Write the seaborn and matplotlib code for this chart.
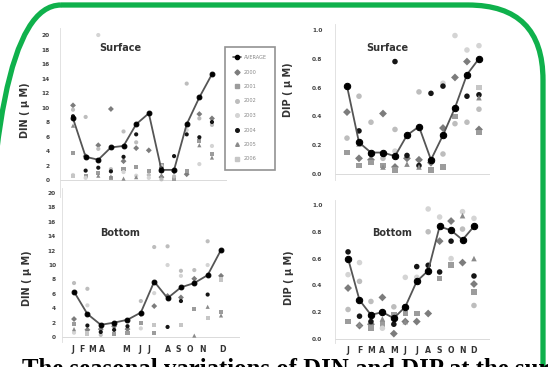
import numpy as np
import pandas as pd
import seaborn as sns
import matplotlib.pyplot as plt
from matplotlib.lines import Line2D
from matplotlib.patches import FancyBboxPatch

W, H = 548, 367
nan = np.nan

months = ["J", "F", "M", "A", "M", "J", "J", "A", "S", "O", "N", "D"]
years = ["2000", "2001", "2002", "2003", "2004", "2005", "2006"]

# DIN surface (uM)
din_surf_avg = [8.5, 3.2, 2.8, 4.5, 4.7, 7.7, 9.2, 1.4, 1.4, 7.7, 11.4, 14.6]
din_surf_years = [
    [10.3, 3.3, 4.8, 9.8, 2.6, 4.4, 4.1, 0.4, 1.2, 0.8, 9.1, 8.5],
    [3.7, 0.6, 1.0, 0.3, 1.5, 1.8, 1.3, 2.0, 0.2, 1.3, 5.4, 3.6],
    [9.7, 8.7, 4.3, 1.5, 6.7, 5.2, 0.7, 0.1, 0.5, 13.3, 8.5, 7.6],
    [0.7, 0.3, 20.0, 4.5, 1.1, 0.6, 0.3, 1.9, nan, 6.9, 2.2, 4.7],
    [8.8, 1.3, 1.7, 1.2, 3.2, 6.3, nan, 1.6, 3.3, 6.3, 5.9, 8.0],
    [7.5, nan, 0.6, 0.5, 0.2, 0.4, nan, 0.7, 1.5, 7.8, 4.8, 3.1],
    [0.5, nan, nan, nan, nan, nan, nan, 1.2, nan, nan, nan, nan],
]

# DIP surface (uM)
dip_surf_avg = [0.61, 0.22, 0.15, 0.15, 0.125, 0.27, 0.33, 0.10, 0.27, 0.46, 0.69, 0.80]
dip_surf_years = [
    [0.43, 0.11, 0.10, 0.42, 0.05, 0.11, 0.10, 0.08, 0.32, 0.67, 0.78, 0.31],
    [0.15, 0.06, 0.08, 0.06, 0.03, nan, nan, 0.03, 0.05, 0.40, nan, 0.29],
    [0.25, 0.54, 0.36, 0.11, 0.31, nan, 0.57, nan, 0.14, 0.35, 0.36, 0.45],
    [nan, nan, nan, nan, 0.16, nan, nan, nan, 0.63, 0.96, 0.86, 0.89],
    [nan, 0.30, 0.14, 0.14, 0.78, 0.13, 0.06, 0.56, 0.61, nan, 0.54, 0.55],
    [nan, 0.21, nan, 0.05, nan, 0.07, 0.05, 0.10, nan, nan, nan, 0.53],
    [nan, nan, nan, nan, nan, nan, nan, nan, nan, nan, nan, 0.60],
]

# DIN bottom (uM)
din_bot_avg = [6.3, 3.2, 1.7, 2.0, 2.4, 3.4, 7.7, 5.4, 6.9, 7.5, 8.6, 12.1]
din_bot_years = [
    [2.5, 1.0, 1.1, 1.5, 1.1, 3.2, 4.3, 5.7, 5.5, 8.1, nan, 8.5],
    [1.8, nan, nan, 0.4, 0.6, 2.0, 0.6, nan, nan, 3.9, nan, 3.5],
    [7.5, 6.7, 0.3, nan, nan, 5.0, 12.5, 12.6, 9.2, 9.3, 13.3, nan],
    [0.6, 4.4, nan, nan, nan, 1.2, 6.1, 10.0, 8.5, nan, 10.0, nan],
    [nan, 1.6, 0.7, 1.0, 1.5, nan, nan, 1.4, 5.0, nan, 5.9, nan],
    [1.1, nan, nan, nan, nan, nan, nan, nan, nan, 0.2, 4.2, 3.0],
    [nan, 0.5, nan, nan, nan, nan, 1.7, nan, 1.7, nan, 2.6, 8.0],
]

# DIP bottom (uM)
dip_bot_avg = [0.60, 0.29, 0.18, 0.20, 0.155, 0.24, 0.43, 0.51, 0.84, 0.81, 0.74, 0.84]
dip_bot_years = [
    [0.38, 0.10, 0.11, 0.31, 0.04, 0.13, 0.13, 0.19, 0.73, 0.88, 0.57, 0.41],
    [0.13, nan, 0.08, 0.11, 0.18, 0.19, 0.19, nan, 0.45, 0.55, nan, 0.35],
    [0.22, 0.43, 0.28, nan, 0.24, nan, nan, 0.80, nan, nan, 0.82, 0.25],
    [0.48, 0.57, nan, 0.08, nan, 0.46, 0.46, 0.97, 0.91, 0.60, 0.95, 0.90],
    [0.65, 0.17, 0.13, 0.20, 0.11, 0.24, 0.54, 0.55, 0.50, 0.73, nan, 0.47],
    [nan, 0.11, nan, 0.15, nan, 0.13, nan, nan, nan, nan, 0.92, 0.60],
    [nan, nan, nan, nan, nan, nan, nan, nan, nan, nan, nan, nan],
]

year_colors = ["#7c7c7c", "#9c9c9c", "#bdbdbd", "#d4d4d4", "#151515", "#8a8a8a", "#c6c6c6"]
year_markers = ["D", "s", "o", "o", "o", "^", "s"]
palette = dict(zip(years, year_colors))
markers = dict(zip(years, year_markers))

sns.set_theme(style="white")
plt.rcParams["font.family"] = ["DejaVu Sans"]

fig = plt.figure(figsize=(W / 100, H / 100), dpi=100)
fig.patch.set_facecolor("white")


def fx(px):
    return px / W


def fy(py):
    return 1 - py / H


def panel(box, xlim, ylim, yticks, fmt, avg, rows, size, ylabel, ylab_xy,
          title, title_xy, ypad, xtick_pos=None):
    x0, x1, yt, yb = box
    ax = fig.add_axes([fx(x0), fy(yb), (x1 - x0) / W, (yb - yt) / H])
    ax.set_facecolor("white")
    recs = []
    for yr, row in zip(years, rows):
        for m, v in enumerate(row):
            if not np.isnan(v):
                recs.append((m, v, yr))
    df = pd.DataFrame(recs, columns=["month", "value", "year"])
    sns.scatterplot(data=df, x="month", y="value", hue="year", style="year",
                    palette=palette, markers=markers, s=size, linewidth=0,
                    ax=ax, legend=False, zorder=2)
    sns.lineplot(x=np.arange(12), y=avg, color="#555555", lw=1.3,
                 marker="o", markersize=np.sqrt(size) * 1.15,
                 markerfacecolor="black", markeredgecolor="black", ax=ax, zorder=3)
    ax.set_xlim(*xlim)
    ax.set_ylim(*ylim)
    ax.set_yticks(yticks)
    ax.set_yticklabels([fmt.format(t) for t in yticks], fontsize=4.2,
                       color="#444444", fontweight="bold")
    ax.tick_params(axis="y", length=0, pad=ypad)
    if xtick_pos is None:
        ax.set_xticks([])
    else:
        ax.set_xticks(xtick_pos)
        ax.set_xticklabels(months, fontsize=5.6, color="#333333", fontweight="bold")
        ax.tick_params(axis="x", length=0, pad=2.0)
    ax.set_xlabel("")
    ax.set_ylabel(ylabel, fontsize=7, fontweight="bold", color="#333333")
    ax.yaxis.set_label_coords(fx(ylab_xy[0]), fy(ylab_xy[1]), transform=fig.transFigure)
    for s in ["top", "right", "bottom"]:
        ax.spines[s].set_visible(False)
    ax.spines["left"].set_color("#dddddd")
    ax.spines["left"].set_linewidth(0.6)
    ax.axhline(0, color="#d5d5d5", lw=0.6, zorder=1)
    fig.text(fx(title_xy[0]), fy(title_xy[1]), title, fontsize=7, color="#333333",
             ha="center", va="center", fontweight="semibold")
    return ax


din_ticks = list(range(0, 21, 2))
dip_ticks = [0.0, 0.2, 0.4, 0.6, 0.8, 1.0]

ax1 = panel((60, 227, 28, 197), (-1.03, 12.19), (-2.34, 20.97), din_ticks, "{:d}",
            din_surf_avg, din_surf_years, 9, "DIN ( \u03bc M)", (30, 110),
            "Surface", (120, 48), 7.2)
ax2 = panel((335, 490, 24, 180), (-1.0, 11.92), (-0.04, 1.04), dip_ticks, "{:.1f}",
            dip_surf_avg, dip_surf_years, 16, "DIP ( \u03bc M)", (293, 90),
            "Surface", (387, 48), 9)
bl_pos = [-0.07, 0.6, 1.35, 2.1, 3.9, 4.9, 5.6, 7.0, 7.8, 8.7, 9.6, 11.1]
ax3 = panel((62, 240, 188, 342), (-0.9, 12.42), (-0.69, 20.7), din_ticks, "{:d}",
            din_bot_avg, din_bot_years, 9, "DIN ( \u03bc M)", (32, 278),
            "Bottom", (120, 233), 4.3, xtick_pos=bl_pos)
ax4 = panel((335, 490, 200, 343), (-1.14, 12.4), (-0.03, 1.037), dip_ticks, "{:.1f}",
            dip_bot_avg, dip_bot_years, 16, "DIP ( \u03bc M)", (294, 278),
            "Bottom", (392, 233), 9, xtick_pos=list(range(12)))

# legend of the surface DIN panel
handles = [Line2D([], [], color="#555555", lw=1.2, marker="o", markersize=3,
                  markerfacecolor="black", markeredgecolor="black")]
for c, m in zip(year_colors, year_markers):
    handles.append(Line2D([], [], ls="none", marker=m, markersize=2.6,
                          markerfacecolor=c, markeredgecolor=c))
leg = fig.legend(handles, ["AVERAGE"] + years, loc="upper left",
                 bbox_to_anchor=(fx(225), fy(47)), bbox_transform=fig.transFigure,
                 fontsize=3.6, labelspacing=1.9, handlelength=1.5, handletextpad=0.7,
                 borderpad=1.6, borderaxespad=0, frameon=True, fancybox=False,
                 labelcolor="#888888")
leg.get_frame().set_edgecolor("#777777")
leg.get_frame().set_linewidth(1.2)

# caption and green rounded frame
over = fig.add_axes([0, 0, 1, 1], zorder=10)
over.set_xlim(0, W)
over.set_ylim(H, 0)
over.axis("off")
over.patch.set_alpha(0)
frame = FancyBboxPatch((-14, 5), 557, 450, boxstyle="round,pad=0,rounding_size=75",
                       fill=False, edgecolor="#0fb14c", lw=3.8)
over.add_patch(frame)
over.text(22, 376, "The seasonal variations of DIN and DIP at the surface",
          fontsize=17.8, fontweight="bold", family="Liberation Serif",
          ha="left", va="baseline", color="black", clip_on=False)

fig.savefig("out.png", dpi=100)
